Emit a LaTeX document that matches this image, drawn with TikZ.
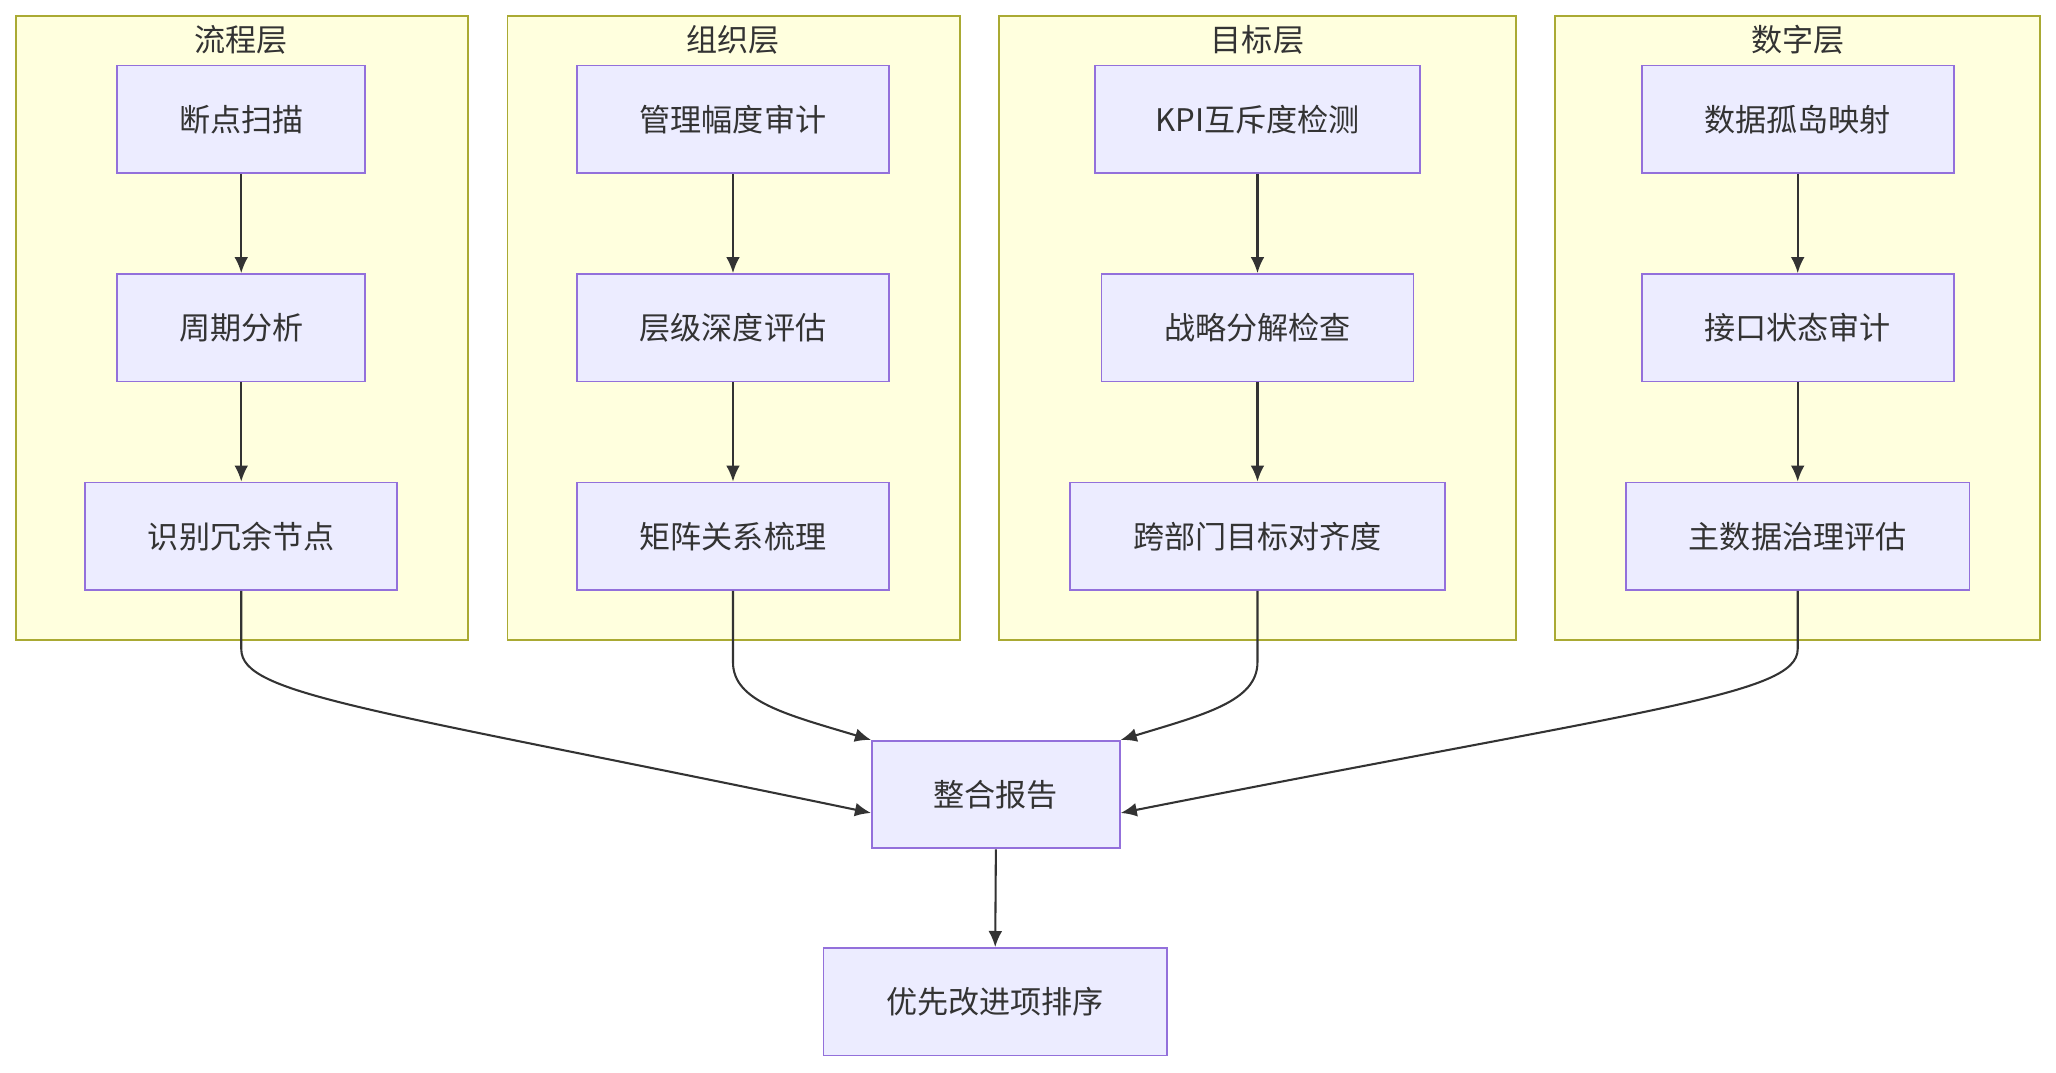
\documentclass[tikz,border=0pt]{standalone}
\usepackage{fontspec}
\setmainfont{Noto Sans CJK SC}
\usetikzlibrary{arrows.meta}
\definecolor{nfill}{HTML}{ECECFF}
\definecolor{nline}{HTML}{9370DB}
\definecolor{cfill}{HTML}{FFFFDE}
\definecolor{cline}{HTML}{AAAA33}
\definecolor{eline}{HTML}{333333}
\begin{document}
\begin{tikzpicture}[x=0.02cm,y=-0.02cm,
  box/.style={draw=nline,fill=nfill,line width=0.8pt,minimum height=1.64cm,inner sep=0pt,font=\fontsize{13.5}{16}\selectfont,text=eline},
  clus/.style={draw=cline,fill=cfill,line width=0.8pt},
  ttl/.style={font=\fontsize{13.5}{16}\selectfont,text=eline},
  edge/.style={draw=eline,line width=0.9pt,-{Latex[length=7pt,width=6pt]}}]
\useasboundingbox (0,0) rectangle (1568,818);
\draw[clus] (12,12) rectangle (357,488);
\draw[clus] (387,12) rectangle (732,488);
\draw[clus] (762,12) rectangle (1156,488);
\draw[clus] (1186,12) rectangle (1556,488);
\node[ttl] (t1) at (184,30) {流程层};
\node[ttl] (t2) at (559,30) {组织层};
\node[ttl] (t3) at (959,30) {目标层};
\node[ttl] (t4) at (1371,30) {数字层};
\node[box,minimum width=3.78cm] (a1) at (184,91) {断点扫描};
\node[box,minimum width=3.78cm] (a2) at (184,250) {周期分析};
\node[box,minimum width=4.76cm] (a3) at (184,409) {识别冗余节点};
\node[box,minimum width=4.76cm] (b1) at (559,91) {管理幅度审计};
\node[box,minimum width=4.76cm] (b2) at (559,250) {层级深度评估};
\node[box,minimum width=4.76cm] (b3) at (559,409) {矩阵关系梳理};
\node[box,minimum width=4.96cm] (c1) at (959,91) {KPI互斥度检测};
\node[box,minimum width=4.76cm] (c2) at (959,250) {战略分解检查};
\node[box,minimum width=5.72cm] (c3) at (959,409) {跨部门目标对齐度};
\node[box,minimum width=4.76cm] (d1) at (1371,91) {数据孤岛映射};
\node[box,minimum width=4.76cm] (d2) at (1371,250) {接口状态审计};
\node[box,minimum width=5.24cm] (d3) at (1371,409) {主数据治理评估};
\node[box,minimum width=3.78cm] (m) at (759.5,606) {整合报告};
\node[box,minimum width=5.24cm] (p) at (759,764) {优先改进项排序};
\foreach \u/\v in {a1/a2,a2/a3,b1/b2,b2/b3,c1/c2,c2/c3,d1/d2,d3/d3}{}
\foreach \u/\v in {a1/a2,a2/a3,b1/b2,b2/b3,c1/c2,c2/c3,d1/d2,d2/d3,m/p}
  \draw[edge] (\u.south) -- (\v.north);
\draw[edge] (a3.south) -- (184,495) .. controls (184,530) and (280,540) .. ([yshift=-0.28cm]m.west);
\draw[edge] (b3.south) -- (559,505) .. controls (559,535) and (600,545) .. (m.north west);
\draw[edge] (c3.south) -- (959,505) .. controls (959,535) and (918,545) .. (m.north east);
\draw[edge] (d3.south) -- (1371,495) .. controls (1371,530) and (1260,540) .. ([yshift=-0.28cm]m.east);
\end{tikzpicture}
\end{document}
